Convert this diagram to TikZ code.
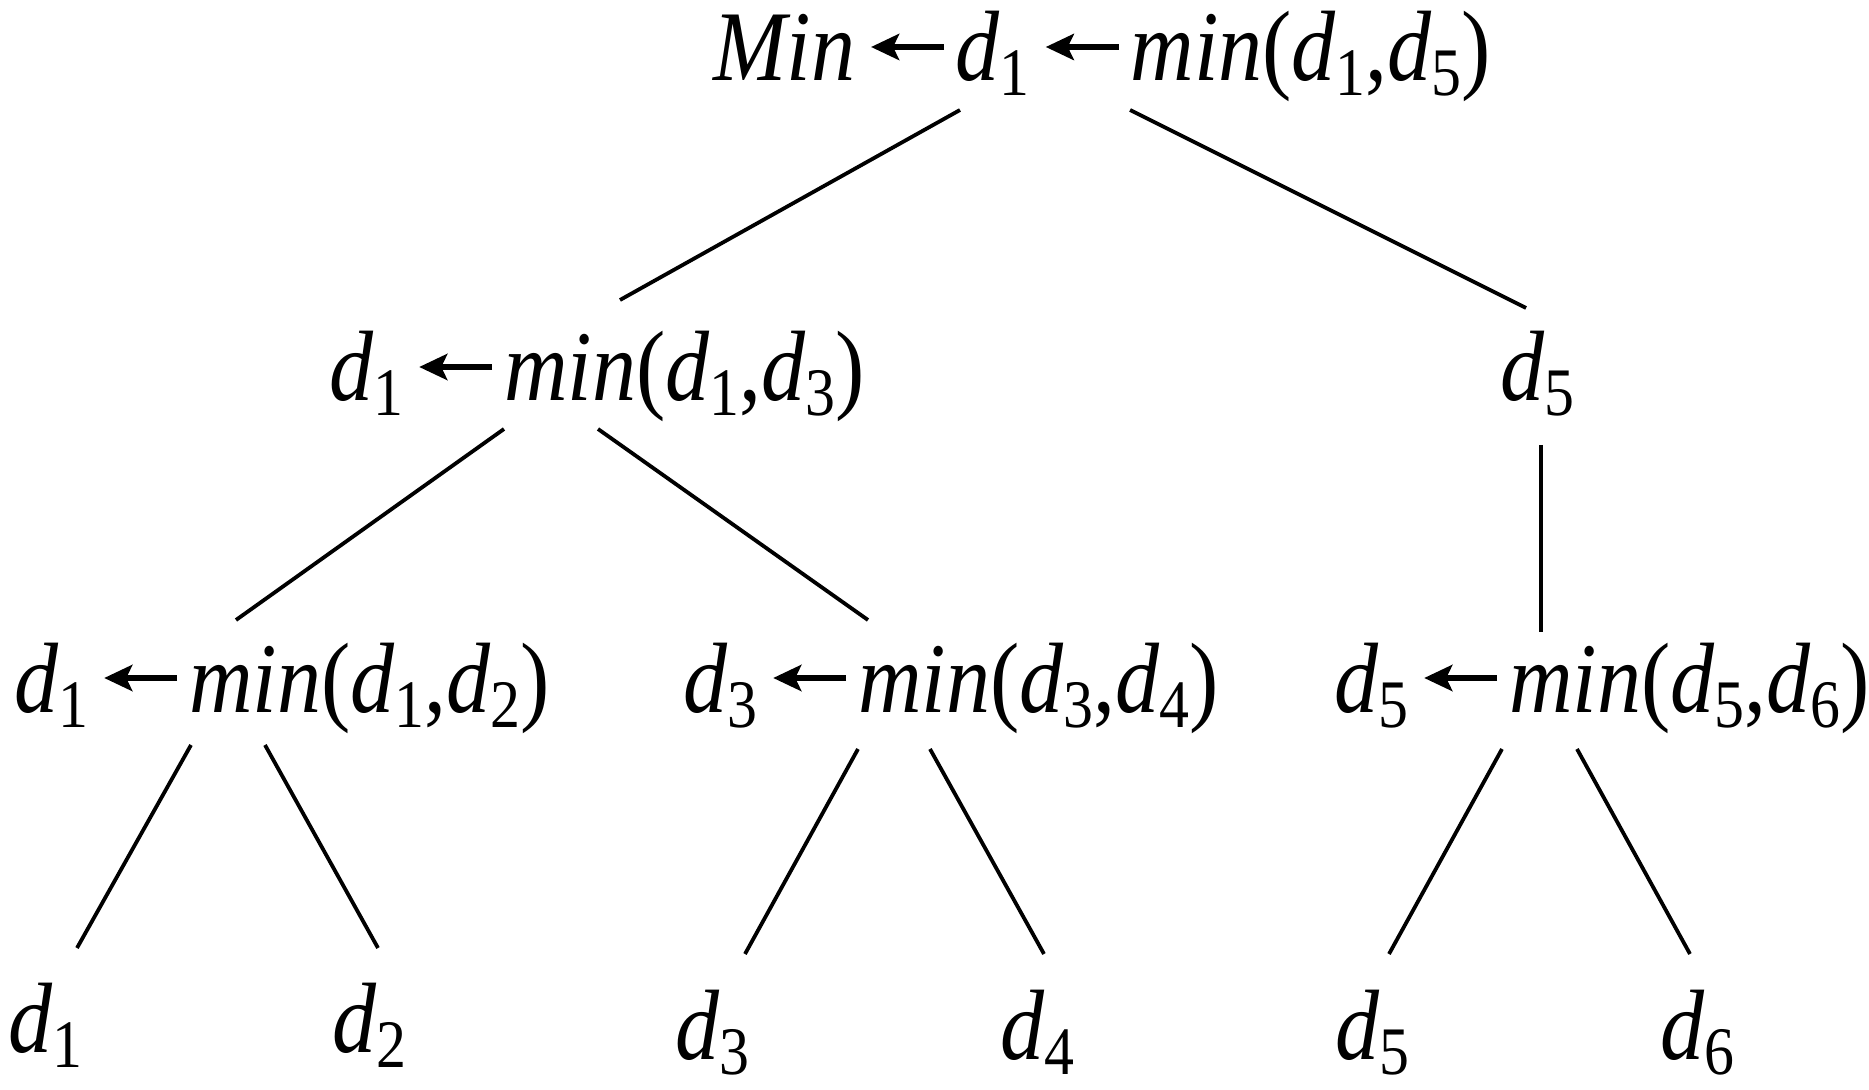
\documentclass[tikz,border=0pt]{standalone}
\usepackage{fontspec}
\setmainfont[FakeStretch=0.88]{Liberation Serif}
\usetikzlibrary{arrows.meta}
\newcommand\mysub[1]{\raisebox{-0.15em}{\fontsize{34pt}{34pt}\selectfont\upshape #1}}
\newcommand\myarr{\hspace{6.5pt}\tikz[baseline=0pt]\draw[line width=2.9pt,-{Stealth[length=14pt,width=13pt,inset=3pt]}] (36.5pt,17pt) -- (0pt,17pt);\hspace{4.5pt}}
\newcommand\up[1]{{\upshape #1}}
\begin{document}
\begin{tikzpicture}[x=0.5pt,y=-0.5pt,
  lbl/.style={anchor=base west, inner sep=0pt, font=\fontsize{50pt}{60pt}\selectfont\itshape},
  edge/.style={line width=1.9pt}]
\useasboundingbox (0,0) rectangle (1869,1090);
\node[lbl] (root) at (713,81) {Min\myarr d\mysub{1}\myarr min\up{(}d\mysub{1}\up{,}d\mysub{5}\up{)}};
\node[lbl] (l) at (329,401) {d\mysub{1}\myarr min\up{(}d\mysub{1}\up{,}d\mysub{3}\up{)}};
\node[lbl] (r) at (1500,401) {d\mysub{5}};
\node[lbl] (ll) at (14,712) {d\mysub{1}\myarr min\up{(}d\mysub{1}\up{,}d\mysub{2}\up{)}};
\node[lbl] (lr) at (683,712) {d\mysub{3}\myarr min\up{(}d\mysub{3}\up{,}d\mysub{4}\up{)}};
\node[lbl] (rr) at (1334,712) {d\mysub{5}\myarr min\up{(}d\mysub{5}\up{,}d\mysub{6}\up{)}};
\node[lbl] (a1) at (8,1052) {d\mysub{1}};
\node[lbl] (a2) at (332,1052) {d\mysub{2}};
\node[lbl] (a3) at (675,1059) {d\mysub{3}};
\node[lbl] (a4) at (1000,1059) {d\mysub{4}};
\node[lbl] (a5) at (1335,1059) {d\mysub{5}};
\node[lbl] (a6) at (1660,1059) {d\mysub{6}};
\draw[edge] ([shift={(247,29)}]root.base west) -- ([shift={(291,-101)}]l.base west);
\draw[edge] ([shift={(417,29)}]root.base west) -- ([shift={(26,-93)}]r.base west);
\draw[edge] ([shift={(175,28)}]l.base west) -- ([shift={(222,-92)}]ll.base west);
\draw[edge] ([shift={(269,28)}]l.base west) -- ([shift={(185,-92)}]lr.base west);
\draw[edge] ([shift={(41,44)}]r.base west) -- ([shift={(207,-80)}]rr.base west);
\draw[edge] ([shift={(177,33)}]ll.base west) -- ([shift={(69,-104)}]a1.base west);
\draw[edge] ([shift={(251,33)}]ll.base west) -- ([shift={(46,-104)}]a2.base west);
\draw[edge] ([shift={(175,37)}]lr.base west) -- ([shift={(70,-105)}]a3.base west);
\draw[edge] ([shift={(247,37)}]lr.base west) -- ([shift={(44,-105)}]a4.base west);
\draw[edge] ([shift={(168,37)}]rr.base west) -- ([shift={(54,-105)}]a5.base west);
\draw[edge] ([shift={(243,37)}]rr.base west) -- ([shift={(30,-105)}]a6.base west);
\end{tikzpicture}
\end{document}
